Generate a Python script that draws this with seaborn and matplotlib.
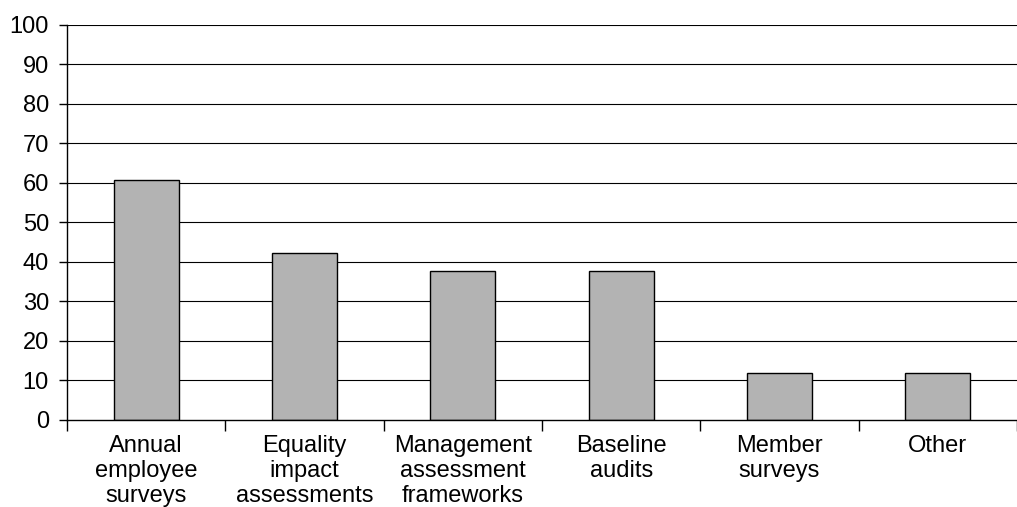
import matplotlib
matplotlib.use("Agg")
import matplotlib.pyplot as plt
import seaborn as sns
import pandas as pd
import numpy as np

categories = [
    "Annual\nemployee\nsurveys",
    "Equality\nimpact\nassessments",
    "Management\nassessment\nframeworks",
    "Baseline\naudits",
    "Member\nsurveys",
    "Other",
]
values = [60.7, 42.3, 37.8, 37.8, 11.8, 11.8]
y_ticks = [0, 10, 20, 30, 40, 50, 60, 70, 80, 90, 100]

sns.set_theme(style="white")
plt.rcParams["font.family"] = ["Liberation Sans", "DejaVu Sans"]

df = pd.DataFrame({"category": categories, "value": values})

fig = plt.figure(figsize=(10.17, 5.07), dpi=100)
ax = fig.add_axes([0.0659, 0.1716, 0.9341, 0.7795])

# horizontal gridlines behind the bars
for t in y_ticks[1:]:
    ax.axhline(t, color="black", linewidth=0.8, zorder=0)

sns.barplot(data=df, x="category", y="value", color="#b3b3b3",
            saturation=1, width=0.41, edgecolor="black", linewidth=1.0,
            ax=ax, zorder=2)

ax.set_xlim(-0.5, len(categories) - 0.5)
ax.set_ylim(0, 100)
ax.set_yticks(y_ticks)
ax.set_xlabel("")
ax.set_ylabel("")

for side in ["top", "right"]:
    ax.spines[side].set_visible(False)
for side in ["left", "bottom"]:
    ax.spines[side].set_color("black")
    ax.spines[side].set_linewidth(1.0)

# category labels centred, tick marks on category boundaries
ax.set_xticks(range(len(categories)))
ax.set_xticklabels(categories, fontsize=17, va="top", linespacing=1.16)
ax.tick_params(axis="x", which="major", length=0, pad=11, colors="black")
ax.set_xticks(np.arange(-0.5, len(categories), 1.0), minor=True)
ax.tick_params(axis="x", which="minor", bottom=True, length=8, width=1.0,
               color="black", direction="out")

ax.tick_params(axis="y", which="major", left=True, length=6, width=1.0,
               color="black", direction="out", pad=7, labelsize=17,
               labelcolor="black")

fig.savefig("out.png", dpi=100, facecolor="white")
